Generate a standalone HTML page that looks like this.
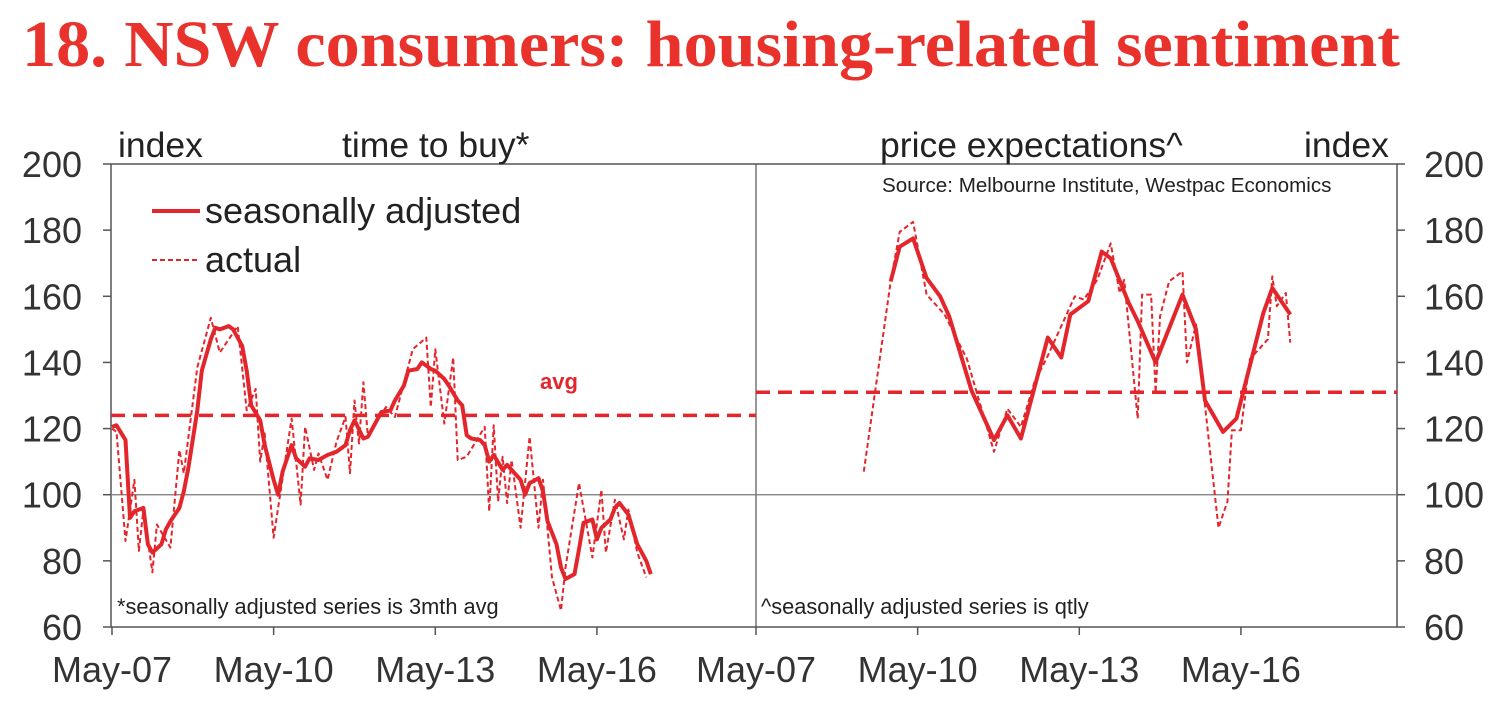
<!DOCTYPE html>
<html><head><meta charset="utf-8"><style>
body{margin:0;background:#fff;}
svg{display:block;font-family:"Liberation Sans",sans-serif;}
</style></head><body>
<svg id="chart" width="1509" height="710" viewBox="0 0 1509 710">
<text x="22" y="66" font-family="Liberation Serif,serif" font-weight="bold" font-size="66" fill="#e8322b" textLength="1378" lengthAdjust="spacingAndGlyphs">18. NSW consumers: housing-related sentiment</text>
<g id="axes"></g>
<g id="marks"></g>
<text x="118" y="157" font-size="35.5" fill="#222">index</text>
<text x="342" y="157" font-size="35.5" fill="#222">time to buy*</text>
<text x="880" y="157" font-size="35.5" fill="#222">price expectations^</text>
<text x="1304" y="157" font-size="35.5" fill="#222">index</text>
<text x="882" y="192" font-size="20.6" fill="#222">Source: Melbourne Institute, Westpac Economics</text>
<text x="117" y="614" font-size="21.8" fill="#222">*seasonally adjusted series is 3mth avg</text>
<text x="761" y="614" font-size="21.8" fill="#222">^seasonally adjusted series is qtly</text>
<line x1="152" y1="211" x2="200" y2="211" stroke="#e3262c" stroke-width="4"/>
<text x="205" y="223" font-size="36" fill="#222">seasonally adjusted</text>
<line x1="152" y1="260" x2="200" y2="260" stroke="#e3262c" stroke-width="2" stroke-dasharray="5,3"/>
<text x="205" y="272" font-size="36" fill="#222">actual</text>
<text x="540" y="389" font-size="22" font-weight="bold" fill="#e3262c">avg</text>
</svg>
<script>
const yTicks=[60,80,100,120,140,160,180,200];
const xTickLabels=["May-07","May-10","May-13","May-16"];
const xTickMonths=[0,36,72,108];
const leftSaMonths=[0,1,3,4,5,7,8,9,11,12,13,15,16,17,19,20,22,23,24,26,27,29,30,31,33,34,36,37,38,40,41,43,44,46,48,50,52,53,54,56,57,59,60,62,63,65,66,68,69,71,72,74,75,77,78,79,80,82,83,84,85,87,88,89,91,92,93,95,96,97,99,100,101,103,104,105,107,108,109,111,112,113,115,116,117,119,120];
const leftSaValues=[120.5,121,116.5,93,95,96,85,82.5,85,89.5,92,96,101,108,125.5,137.5,147,150.5,150,151,150,145,137.5,127,122.5,115,104.5,100,107,115,111,108.5,111,110.5,112,113,115,119.5,122.5,117,117.5,122.5,125,125.5,128.5,133,137.5,138,140,138,137.5,135,133,128.5,127,118,117,116.5,115,110,112,107.5,109,107.5,104.5,100,103.5,105,101,92,85,78,74.5,76,83.5,91.5,92.5,86.5,90,92.5,96,97.5,94,89.5,85,80,76];
const leftActMonths=[0,1,3,5,6,7,9,10,13,15,16,19,22,24,28,30,32,33,34,36,40,42,43,45,46,48,50,52,53,54,55,56,57,61,63,67,70,71,72,74,76,77,79,83,84,85,86,87,88,89,91,93,95,96,98,100,101,104,107,109,110,112,114,115,117,119];
const leftActValues=[120,119,86,104.5,83,95.5,76.5,91,84,113.5,106.5,138.5,153.5,143,151,125.5,132,110,118.5,87,123,97,120.5,107.5,112.5,104.5,116,123.5,106.5,128.5,115.5,134,117.5,126.5,123.5,144,147.5,126.5,144,121.5,141.5,110.5,111.5,120.5,95,121,98,111.5,97.5,110.5,90,117.5,90,104.5,75,65,78,103.5,81,101.5,82.5,98.5,86.5,95.5,82.5,75];
const rightSaMonths=[30,32,35,38,41,43,48,53,56,59,65,68,70,74,77,79,83,85,89,95,98,100,104,107,113,115,119];
const rightSaValues=[164.5,175,177.5,165.5,160,154,131.5,116.5,124,117,147.5,141.5,154.5,158.5,173.5,171.5,158,152.5,140,160.5,150,128.5,119,123,155,162.5,154.5];
const rightActMonths=[24,30,32,35,38,42,47,53,56,59,62,65,71,73,76,79,81,82,85,86,88,89,90,92,95,96,98,103,105,106,108,110,114,115,116,118,119];
const rightActValues=[107,164.5,179.5,182.5,160.5,154.5,141,113,126,120.5,134,142,160,159,165,176,161,165,123,160.5,160.5,131,154,164.5,167.5,140,151.5,90,98,119.5,119.5,141,147,166,157,161,146];
const avgValues=[124,131];

const NS="http://www.w3.org/2000/svg";
const axes=document.getElementById('axes'),marks=document.getElementById('marks');
const pTop=164,pBot=627,L0=111,mid=756,R1=1397,pxm=4.49;
const y=v=>pBot-(v-60)*(pBot-pTop)/140;
const xl=m=>112+m*pxm, xr=m=>756+m*pxm;
function mk(tag,attrs,parent){const e=document.createElementNS(NS,tag);for(const k in attrs)e.setAttribute(k,attrs[k]);parent.appendChild(e);return e;}
let r=mk('rect',{x:L0,y:pTop,width:R1-L0,height:pBot-pTop,fill:'none',stroke:'#555','stroke-width':1.5},axes);


let d=mk('line',{x1:mid,y1:pTop,x2:mid,y2:pBot,stroke:'#555','stroke-width':1.2},axes);


let h=mk('line',{x1:L0,y1:y(100),x2:R1,y2:y(100),stroke:'#777','stroke-width':1.3},axes);


yTicks.forEach(v=>{
  let t1=mk('line',{x1:L0-8,y1:y(v),x2:L0,y2:y(v),stroke:'#555','stroke-width':1.5},axes);
  
  
  let t2=mk('line',{x1:R1,y1:y(v),x2:R1+8,y2:y(v),stroke:'#555','stroke-width':1.5},axes);
  
  
  let a=mk('text',{x:82,y:y(v)+13,'font-size':36,fill:'#333','text-anchor':'end'},axes);a.textContent=v;
  
  
  let b=mk('text',{x:1424,y:y(v)+13,'font-size':36,fill:'#333'},axes);b.textContent=v;
  
  
});
xTickMonths.forEach((m,i)=>{
  [xl,xr].forEach((fx,p)=>{
    if(p==1&&i==0)return;
    let t=mk('line',{x1:fx(m),y1:pBot,x2:fx(m),y2:pBot+8,stroke:'#555','stroke-width':1.5},axes);
    
    
    let tx=mk('text',{x:fx(m),y:682,'font-size':36,fill:'#333','text-anchor':'middle'},axes);tx.textContent=xTickLabels[i];
    
    
  });
});
let mt=mk('line',{x1:mid,y1:pBot,x2:mid,y2:pBot+8,stroke:'#555','stroke-width':1.5},axes);


let mx=mk('text',{x:mid,y:682,'font-size':36,fill:'#333','text-anchor':'middle'},axes);mx.textContent=xTickLabels[0];


let a1=mk('line',{x1:L0,y1:y(avgValues[0]),x2:mid,y2:y(avgValues[0]),stroke:'#e3262c','stroke-width':3.5,'stroke-dasharray':'14,8'},marks);


let a2=mk('line',{x1:mid,y1:y(avgValues[1]),x2:R1,y2:y(avgValues[1]),stroke:'#e3262c','stroke-width':3.5,'stroke-dasharray':'14,8'},marks);


function line(ms,vs,fx,dashed,name){
  const pts=ms.map((m,i)=>fx(m).toFixed(1)+','+y(vs[i]).toFixed(1)).join(' ');
  const p=mk('polyline',{points:pts,fill:'none',stroke:'#e3262c','stroke-width':dashed?2:4,'stroke-linejoin':'round'},marks);
  if(dashed)p.setAttribute('stroke-dasharray','5,3');
  
  
}
line(leftActMonths,leftActValues,xl,true,'time-to-buy-actual-line');
line(leftSaMonths,leftSaValues,xl,false,'time-to-buy-sa-line');
line(rightActMonths,rightActValues,xr,true,'price-expectations-actual-line');
line(rightSaMonths,rightSaValues,xr,false,'price-expectations-sa-line');
</script>
</body></html>
